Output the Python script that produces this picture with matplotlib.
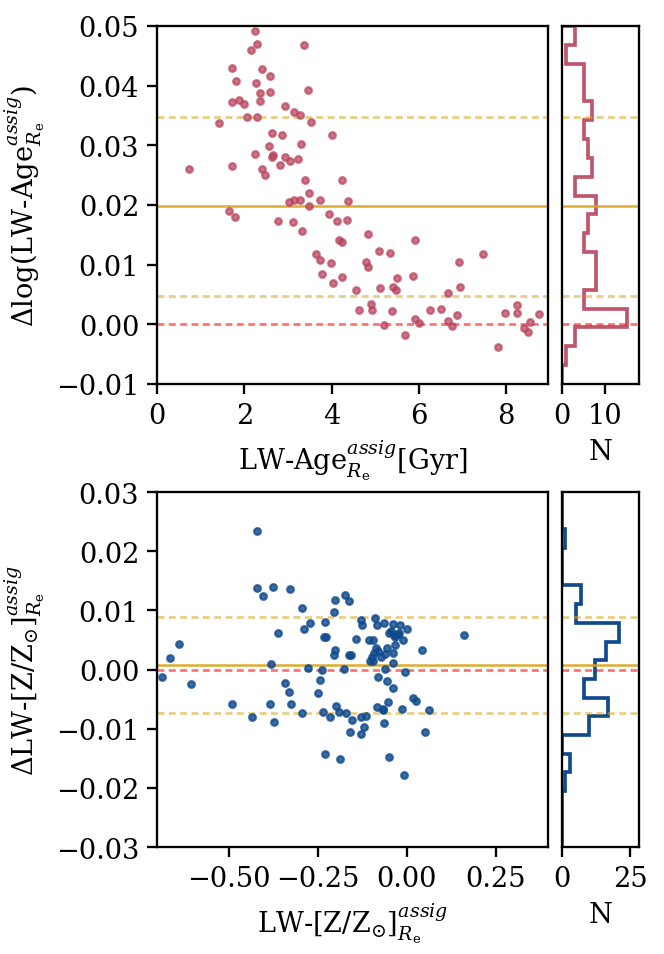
import numpy as np
import matplotlib
matplotlib.use("Agg")
import matplotlib.pyplot as plt

plt.rcParams["font.family"] = "DejaVu Serif"
plt.rcParams["mathtext.fontset"] = "dejavuserif"
plt.rcParams["font.size"] = 11.8
plt.rcParams["axes.linewidth"] = 1.0
plt.rcParams["xtick.major.width"] = 1.0
plt.rcParams["ytick.major.width"] = 1.0
plt.rcParams["xtick.major.size"] = 4.2
plt.rcParams["ytick.major.size"] = 4.2

# top panel: age offsets vs. age
age = [2.25, 2.29, 2.16, 3.38, 1.73, 2.41, 2.58, 1.80, 2.27, 2.35, 2.58, 3.46,
       1.71, 1.89, 1.99, 2.37, 2.94, 3.14, 3.27, 2.07, 2.30, 1.41, 3.52, 4.01,
       2.64, 2.87, 3.29, 2.57, 2.24, 2.65, 2.63, 2.94, 3.05, 3.24, 2.83, 1.73,
       0.74, 2.40, 2.48, 3.40, 4.23, 3.48, 3.03, 3.13, 3.28, 3.74, 4.37, 3.49,
       1.66, 1.78, 3.94, 2.78, 3.11, 4.13, 4.35, 3.33, 4.84, 4.18, 4.25, 3.65,
       5.08, 5.34, 3.73, 3.99, 4.78, 4.84, 3.79, 4.24, 5.49, 4.04, 5.12, 5.41,
       5.48, 4.55, 4.90, 4.92, 4.64, 5.38, 5.21, 5.91, 7.48, 6.93, 5.86, 6.95,
       6.66, 6.25, 6.51, 5.92, 6.01, 6.66, 6.75, 6.87, 5.68, 7.97, 8.24, 8.26,
       8.75, 8.54, 8.42, 8.51, 7.81]
d_age = [0.0491, 0.0469, 0.0459, 0.0468, 0.0430, 0.0428, 0.0416, 0.0407, 0.0405,
         0.0388, 0.0389, 0.0393, 0.0372, 0.0376, 0.0369, 0.0374, 0.0366, 0.0356,
         0.0350, 0.0348, 0.0348, 0.0337, 0.0339, 0.0317, 0.0320, 0.0318, 0.0302,
         0.0299, 0.0285, 0.0284, 0.0280, 0.0281, 0.0274, 0.0277, 0.0267, 0.0266,
         0.0261, 0.0260, 0.0250, 0.0242, 0.0242, 0.0220, 0.0205, 0.0209, 0.0209,
         0.0209, 0.0207, 0.0199, 0.0190, 0.0180, 0.0185, 0.0173, 0.0171, 0.0173,
         0.0175, 0.0156, 0.0152, 0.0141, 0.0138, 0.0118, 0.0122, 0.0120, 0.0108,
         0.0103, 0.0105, 0.0096, 0.0085, 0.0080, 0.0078, 0.0070, 0.0061, 0.0062,
         0.0057, 0.0057, 0.0034, 0.0024, 0.0024, 0.0022, -0.0001, 0.0142, 0.0118,
         0.0104, 0.0081, 0.0062, 0.0052, 0.0024, 0.0026, 0.0009, 0.0002, 0.0005,
         -0.0003, 0.0015, -0.0018, 0.0019, 0.0033, 0.0019, 0.0018, 0.0003,
         -0.0006, -0.0013, -0.0038]
age_hist_counts = [0, 1, 3, 15, 5, 8, 8, 5, 6, 8, 3, 7, 6, 5, 7, 5, 5, 1, 3]
age_mean, age_hi, age_lo = 0.0198, 0.0348, 0.0047

# bottom panel: metallicity offsets vs. metallicity
met = [-0.420, -0.420, -0.376, -0.327, -0.402, -0.202, -0.172, -0.161, -0.295,
       -0.204, -0.229, -0.272, -0.288, -0.362, -0.233, -0.226, -0.143, -0.638,
       -0.201, -0.203, -0.161, -0.157, -0.664, -0.380, -0.278, -0.237, -0.176,
       -0.687, -0.605, -0.341, -0.243, -0.127, -0.124, -0.088, -0.083, -0.064,
       -0.038, -0.045, -0.049, -0.035, -0.024, -0.107, -0.094, -0.033, -0.086,
       -0.079, -0.056, -0.092, -0.096, -0.071, -0.060, -0.038, -0.103, -0.093,
       -0.039, -0.062, -0.079, -0.055, -0.038, -0.019, 0.000, -0.022, -0.033,
       -0.010, 0.161, 0.044, -0.004, 0.017, 0.026, -0.052, -0.067, -0.014,
       0.063, -0.064, 0.051, -0.050, -0.007, -0.331, -0.249, -0.491, -0.384,
       -0.326, -0.435, -0.373, -0.295, -0.234, -0.215, -0.198, -0.189, -0.169,
       -0.153, -0.128, -0.114, -0.119, -0.158, -0.128, -0.083, -0.066, -0.230,
       -0.187]
d_met = [0.0235, 0.0138, 0.0139, 0.0136, 0.0124, 0.0118, 0.0126, 0.0116, 0.0104,
         0.0098, 0.0081, 0.0078, 0.0068, 0.0062, 0.0055, 0.0055, 0.0052, 0.0044,
         0.0033, 0.0025, 0.0025, 0.0024, 0.0019, 0.0009, 0.0002, 0.0000, 0.0001,
         -0.0013, -0.0024, -0.0022, -0.0018, 0.0083, 0.0075, 0.0087, 0.0076,
         0.0079, 0.0077, 0.0066, 0.0062, 0.0058, 0.0060, 0.0050, 0.0050, 0.0042,
         0.0036, 0.0032, 0.0036, 0.0028, 0.0021, 0.0021, 0.0027, 0.0028, 0.0015,
         0.0014, 0.0011, 0.0001, -0.0013, -0.0019, -0.0031, 0.0075, 0.0068,
         0.0062, 0.0055, 0.0050, 0.0058, 0.0033, -0.0004, -0.0048, -0.0053,
         -0.0055, -0.0067, -0.0067, -0.0069, -0.0090, -0.0106, -0.0147, -0.0179,
         -0.0038, -0.0040, -0.0058, -0.0058, -0.0058, -0.0080, -0.0088, -0.0074,
         -0.0071, -0.0080, -0.0062, -0.0071, -0.0074, -0.0085, -0.0081, -0.0078,
         -0.0097, -0.0106, -0.0109, -0.0064, -0.0068, -0.0142, -0.0151]
met_hist_counts = [0, 0, 0, 1, 3, 0, 10, 17, 8, 12, 16, 21, 5, 7, 0, 0, 1, 0, 0]
met_mean, met_hi, met_lo = 0.0008, 0.0089, -0.0073

age_edges = np.linspace(-0.01, 0.05, 20)
met_edges = np.linspace(-0.03, 0.03, 20)

red_col = "#b8435c"
blue_col = "#0f4a8c"
gold = "#daa520"

fig = plt.figure(figsize=(4.0, 955 / 166), dpi=166)
ax1 = fig.add_axes([0.2364, 0.5969, 0.5889, 0.3749])
ax1h = fig.add_axes([0.8464, 0.5969, 0.116, 0.3749])
ax2 = fig.add_axes([0.2364, 0.1120, 0.5889, 0.3717])
ax2h = fig.add_axes([0.8464, 0.1120, 0.116, 0.3717])


def ref_lines(ax, mean, hi, lo):
    ax.axhline(mean, color=gold, lw=1.1, alpha=0.9)
    for v in (hi, lo):
        ax.axhline(v, color=gold, lw=1.2, alpha=0.55, ls=(0, (2.5, 1.6)))
    ax.axhline(0, color="red", lw=1.2, alpha=0.55, ls=(0, (2.5, 1.6)))


ax1.scatter(age, d_age, s=8, color=red_col, alpha=0.72, zorder=3)
ref_lines(ax1, age_mean, age_hi, age_lo)
ax1.set_xlim(0, 8.96)
ax1.set_ylim(-0.01, 0.05)
ax1.set_xticks([0, 2, 4, 6, 8])
ax1.set_xlabel(r"LW-Age$^{assig}_{R_{\rm e}}$[Gyr]")
ax1.set_ylabel(r"$\Delta$log(LW-Age$^{assig}_{R_{\rm e}}$)")

ax1h.stairs(age_hist_counts, age_edges, orientation="horizontal",
            color=red_col, lw=1.6, alpha=0.9)
ref_lines(ax1h, age_mean, age_hi, age_lo)
ax1h.set_ylim(-0.01, 0.05)
ax1h.set_xlim(0, 17.9)
ax1h.set_xticks([0, 10])
ax1h.tick_params(left=False, labelleft=False)
ax1h.set_xlabel("N")

ax2.scatter(met, d_met, s=8, color=blue_col, alpha=0.8, zorder=3)
ref_lines(ax2, met_mean, met_hi, met_lo)
ax2.set_xlim(-0.701, 0.397)
ax2.set_ylim(-0.03, 0.03)
ax2.set_xticks([-0.5, -0.25, 0.0, 0.25])
ax2.set_xlabel(r"LW-[Z/Z$_{\odot}$]$^{assig}_{R_{\rm e}}$")
ax2.set_ylabel(r"$\Delta$LW-[Z/Z$_{\odot}$]$^{assig}_{R_{\rm e}}$")

ax2h.stairs(met_hist_counts, met_edges, orientation="horizontal",
            color=blue_col, lw=1.6)
ref_lines(ax2h, met_mean, met_hi, met_lo)
ax2h.set_ylim(-0.03, 0.03)
ax2h.set_xlim(0, 28.3)
ax2h.set_xticks([0, 25])
ax2h.tick_params(left=False, labelleft=False)
ax2h.set_xlabel("N")

fig.savefig("out.png", dpi=166)
